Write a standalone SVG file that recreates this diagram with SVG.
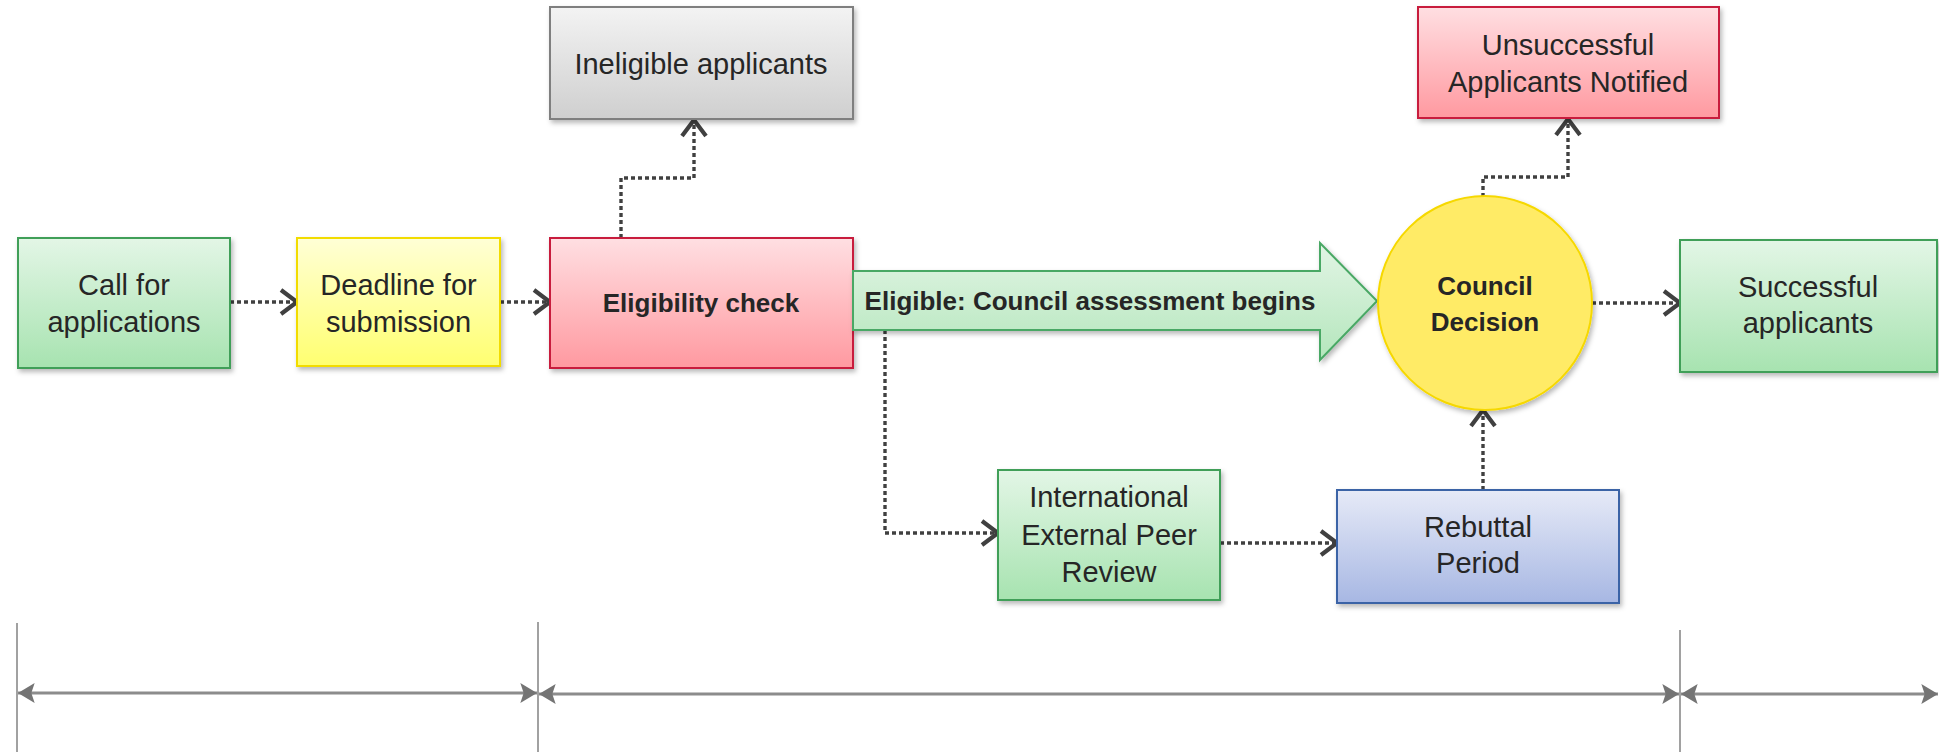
<svg xmlns="http://www.w3.org/2000/svg" width="1939" height="752" viewBox="0 0 1939 752">
<style>
  text { font-family: "Liberation Sans", Arial, sans-serif; fill: #262626; text-anchor: middle; }
  .t { font-size: 29px; }
  .b { font-size: 26px; font-weight: bold; }
  .conn { fill: none; stroke: #404040; stroke-width: 3.4; stroke-dasharray: 4 3; marker-end: url(#chev); }
  .tl { fill: none; stroke: #8c8c8c; stroke-width: 2.8; marker-start: url(#tri); marker-end: url(#tri); }
  .vl { stroke: #8a8a8a; stroke-width: 1.6; }
</style>
<defs>
  <linearGradient id="gGreen" x1="0" y1="0" x2="0" y2="1"><stop offset="0" stop-color="#e3f6e6"/><stop offset="1" stop-color="#a7e3b0"/></linearGradient>
  <linearGradient id="gYellow" x1="0" y1="0" x2="0" y2="1"><stop offset="0" stop-color="#ffffd6"/><stop offset="1" stop-color="#ffff70"/></linearGradient>
  <linearGradient id="gRed" x1="0" y1="0" x2="0" y2="1"><stop offset="0" stop-color="#ffdfe2"/><stop offset="1" stop-color="#ff99a0"/></linearGradient>
  <linearGradient id="gGrey" x1="0" y1="0" x2="0" y2="1"><stop offset="0" stop-color="#f3f3f3"/><stop offset="1" stop-color="#cfcfcf"/></linearGradient>
  <linearGradient id="gBlue" x1="0" y1="0" x2="0" y2="1"><stop offset="0" stop-color="#e6eaf7"/><stop offset="1" stop-color="#a7b7e3"/></linearGradient>
  <linearGradient id="gArrow" x1="0" y1="0" x2="0" y2="1"><stop offset="0" stop-color="#e2f5e5"/><stop offset="1" stop-color="#b4e6bc"/></linearGradient>
  <filter id="sh" x="-10%" y="-10%" width="125%" height="130%">
    <feDropShadow dx="2" dy="3" stdDeviation="2.5" flood-color="#000" flood-opacity="0.28"/>
  </filter>
  <marker id="chev" markerUnits="userSpaceOnUse" markerWidth="32" markerHeight="34" viewBox="-4 -4 28 34" refX="17" refY="12" orient="auto">
    <path d="M1,0 L17,12 L1,24" fill="none" stroke="#404040" stroke-width="4.2" stroke-linejoin="miter"/>
  </marker>
  <marker id="tri" markerUnits="userSpaceOnUse" markerWidth="18" markerHeight="20" viewBox="0 0 16 18" refX="15" refY="9" orient="auto-start-reverse">
    <path d="M0,0 L15,9 L0,18 L3,9 Z" fill="#747474"/>
  </marker>
</defs>

<g id="timeline">
  <line class="vl" x1="17" y1="623" x2="17" y2="752"/>
  <line class="vl" x1="538" y1="622" x2="538" y2="752"/>
  <line class="vl" x1="1680" y1="630" x2="1680" y2="752"/>
  <line class="tl" x1="18" y1="693" x2="537" y2="693"/>
  <line class="tl" x1="539" y1="694" x2="1679" y2="694"/>
  <line class="tl" x1="1681" y1="694" x2="1938" y2="694"/>
</g>

<g id="connectors">
  <path class="conn" d="M230,302 H297"/>
  <path class="conn" d="M500,302 H550"/>
  <path class="conn" d="M621,238 V178 H694 V120"/>
  <path class="conn" d="M885,330 V533 H998"/>
  <path class="conn" d="M1220,543 H1337"/>
  <path class="conn" d="M1483,490 V410"/>
  <path class="conn" d="M1483,197 V177 H1568 V119"/>
  <path class="conn" d="M1592,303 H1680"/>
</g>

<g id="call">
  <rect x="18" y="238" width="212" height="130" fill="url(#gGreen)" stroke="#3f9f58" stroke-width="2" filter="url(#sh)"/>
  <text class="t" x="124" y="295">Call for</text>
  <text class="t" x="124" y="332">applications</text>
</g>

<g id="deadline">
  <rect x="297" y="238" width="203" height="128" fill="url(#gYellow)" stroke="#f2dc00" stroke-width="2" filter="url(#sh)"/>
  <text class="t" x="398.5" y="295">Deadline for</text>
  <text class="t" x="398.5" y="332">submission</text>
</g>

<g id="ineligible">
  <rect x="550" y="7" width="303" height="112" fill="url(#gGrey)" stroke="#7f7f7f" stroke-width="2" filter="url(#sh)"/>
  <text class="t" x="701" y="74">Ineligible applicants</text>
</g>

<g id="eligibility">
  <rect x="550" y="238" width="303" height="130" fill="url(#gRed)" stroke="#c81e3c" stroke-width="2" filter="url(#sh)"/>
  <text class="b" x="701" y="312">Eligibility check</text>
</g>

<g id="assessment">
  <polygon points="853,271 1320,271 1320,243 1377,301 1320,360 1320,330 853,330" fill="url(#gArrow)" stroke="#4aa865" stroke-width="2" filter="url(#sh)"/>
  <text class="b" x="1090" y="310">Eligible: Council assessment begins</text>
</g>

<g id="unsuccessful">
  <rect x="1418" y="7" width="301" height="111" fill="url(#gRed)" stroke="#c81e3c" stroke-width="2" filter="url(#sh)"/>
  <text class="t" x="1568" y="55">Unsuccessful</text>
  <text class="t" x="1568" y="92">Applicants Notified</text>
</g>

<g id="decision">
  <circle cx="1485" cy="303" r="107" fill="#ffeb66" stroke="#f6d800" stroke-width="2" filter="url(#sh)"/>
  <text class="b" x="1485" y="295">Council</text>
  <text class="b" x="1485" y="331">Decision</text>
</g>

<g id="successful">
  <rect x="1680" y="240" width="257" height="132" fill="url(#gGreen)" stroke="#3f9f58" stroke-width="2" filter="url(#sh)"/>
  <text class="t" x="1808" y="297">Successful</text>
  <text class="t" x="1808" y="333">applicants</text>
</g>

<g id="peerreview">
  <rect x="998" y="470" width="222" height="130" fill="url(#gGreen)" stroke="#3f9f58" stroke-width="2" filter="url(#sh)"/>
  <text class="t" x="1109" y="507">International</text>
  <text class="t" x="1109" y="545">External Peer</text>
  <text class="t" x="1109" y="582">Review</text>
</g>

<g id="rebuttal">
  <rect x="1337" y="490" width="282" height="113" fill="url(#gBlue)" stroke="#3a63a6" stroke-width="2" filter="url(#sh)"/>
  <text class="t" x="1478" y="537">Rebuttal</text>
  <text class="t" x="1478" y="573">Period</text>
</g>
</svg>
